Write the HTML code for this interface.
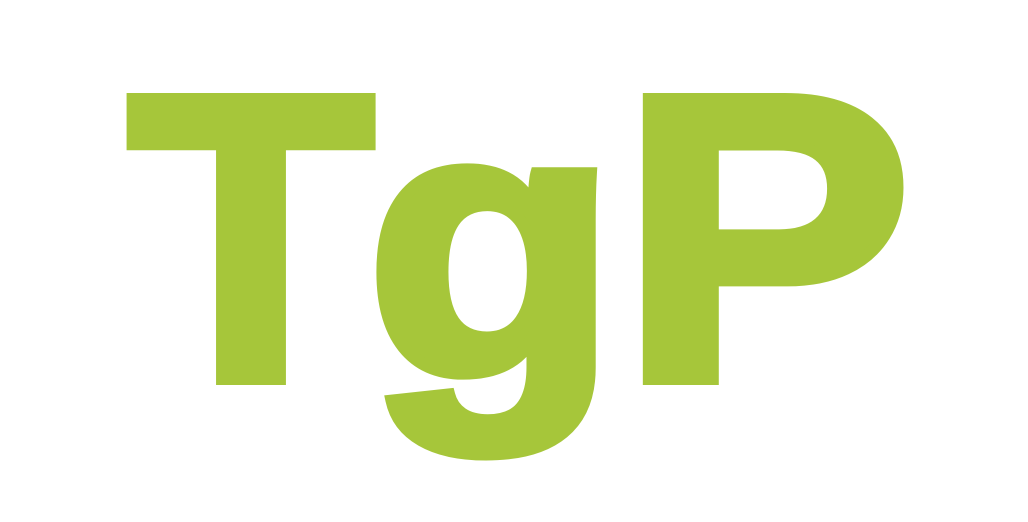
<!DOCTYPE html>
<html>
<head>
<meta charset="utf-8">
<style>
  html, body { margin: 0; padding: 0; background: #ffffff; }
  body { width: 1028px; height: 522px; overflow: hidden; }
  svg { display: block; }
  text { font-family: "Liberation Sans", sans-serif; font-weight: bold; fill: #A6C63A; stroke: #A6C63A; stroke-width: 12; stroke-linejoin: miter; }
</style>
</head>
<body>
<svg width="1028" height="522" viewBox="0 0 1028 522">
  <text x="128" y="379" font-size="407" textLength="246" lengthAdjust="spacingAndGlyphs">T</text>
  <text x="366" y="374" font-size="380" textLength="252" lengthAdjust="spacingAndGlyphs">g</text>
  <text x="620" y="379" font-size="407" textLength="292" lengthAdjust="spacingAndGlyphs">P</text>
</svg>
</body>
</html>
